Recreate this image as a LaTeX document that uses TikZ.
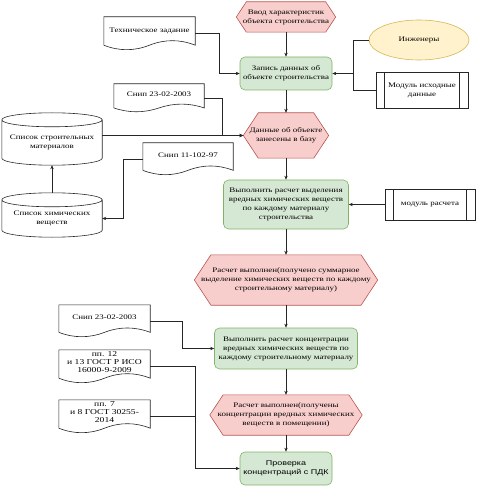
\documentclass[tikz,border=0pt]{standalone}
\usepackage{fontspec}
\setmainfont[FakeStretch=1.28]{Liberation Serif}
\newfontfamily\widesans[FakeStretch=1.28]{Liberation Sans}
\usetikzlibrary{arrows.meta,shapes.geometric,calc,backgrounds}
\definecolor{FlowPink}{HTML}{F8CECC}
\definecolor{FlowRed}{HTML}{B85450}
\definecolor{FlowGreen}{HTML}{D5E8D4}
\definecolor{FlowGreenDark}{HTML}{82B366}
\definecolor{FlowCream}{HTML}{FFF2CC}
\definecolor{FlowGold}{HTML}{D6B656}
\definecolor{FlowDark}{HTML}{262626}
\tikzset{
  txt/.style={font=\fontsize{7pt}{9pt}\selectfont,align=center,inner sep=1pt},
  hexbox/.style={txt},
  hexline/.style={draw=FlowRed,fill=FlowPink,line width=0.6pt},
  greenbox/.style={txt,draw=FlowGreenDark,fill=FlowGreen,rounded corners=5pt,line width=0.6pt},
  docbox/.style={txt,minimum width=91pt,minimum height=33pt,text depth=7pt},
  gosttxt/.style={font=\fontsize{7.5pt}{8pt}\selectfont,text depth=8.5pt},
  docline/.style={draw=FlowDark,fill=white,line width=0.6pt},
  procbox/.style={txt,draw=FlowDark,fill=white,line width=0.6pt,
    path picture={\draw[flowline] ([xshift=8.5pt]path picture bounding box.north west) -- ([xshift=8.5pt]path picture bounding box.south west)
      ([xshift=-8.5pt]path picture bounding box.north east) -- ([xshift=-8.5pt]path picture bounding box.south east);}},
  cylbox/.style={txt,minimum width=100pt},
  cylline/.style={draw=FlowDark,fill=white,line width=0.6pt},
  ellbox/.style={txt,ellipse,draw=FlowGold,fill=FlowCream,line width=0.6pt},
  flowarrow/.style={-{Stealth[length=4pt,width=3.4pt]},line width=0.6pt,draw=FlowDark},
  flowline/.style={line width=0.6pt,draw=FlowDark}
}
\begin{document}
\begin{tikzpicture}[x=1pt,y=-1pt]
\useasboundingbox (0,0) rectangle (476,486);
% main column
\node[hexbox,minimum width=99pt,minimum height=30pt] (in1) at (286,17) {Ввод характеристик\\объекта строительства};
\node[greenbox,minimum width=92pt,minimum height=33pt] (rec1) at (286,73.5) {Запись данных об\\объекте строительства};
\node[hexbox,minimum width=85pt,minimum height=45pt] (db) at (286,135.5) {Данные об объекте\\занесены в базу};
\node[greenbox,minimum width=125pt,minimum height=49pt] (calc1) at (286,204.5) {Выполнить расчет выделения\\вредных химических веществ\\по каждому материалу\\строительства};
\node[hexbox,minimum width=183pt,minimum height=50pt] (res1) at (286,280) {Расчет выполнен(получено суммарное\\выделение химических веществ по каждому\\строительному материалу)};
\node[greenbox,minimum width=143pt,minimum height=41pt] (calc2) at (286,348.5) {Выполнить расчет концентрации\\вредных химических веществ по\\каждому строительному материалу};
\node[hexbox,minimum width=152pt,minimum height=40pt] (res2) at (286,415) {Расчет выполнен(получены\\концентрации вредных химических\\веществ в помещении)};
\node[greenbox,minimum width=92pt,minimum height=33pt,font=\widesans\fontsize{7pt}{8.5pt}\selectfont] (chk) at (286,468.5) {Проверка\\концентраций с ПДК};
% right side
\node[ellbox,minimum width=100pt,minimum height=40pt] (eng) at (419,40) {Инженеры};
\node[procbox,minimum width=92pt,minimum height=36pt] (mod1) at (422,90) {Модуль исходные\\данные};
\node[procbox,minimum width=90pt,minimum height=31pt] (mod2) at (430,204.5) {модуль расчета};
% left side
\node[docbox] (tz) at (149.5,33.5) {Техническое задание};
\node[docbox,minimum width=90pt,minimum height=28pt] (snip1) at (159,98) {Снип 23-02-2003};
\node[cylbox,minimum height=45pt] (mat) at (52,142.5) {Список строительных\\материалов};
\node[cylbox,minimum height=37pt] (chem) at (52,218.5) {Список химических\\веществ};
\node[docbox,minimum width=90pt,minimum height=32pt] (snip2) at (188,159) {Снип 11-102-97};
\node[docbox,minimum height=32pt] (snip3) at (104.5,321) {Снип 23-02-2003};
\node[docbox,gosttxt] (gost1) at (104.5,366.5) {пп. 12\\и 13 ГОСТ Р ИСО\\16000-9-2009};
\node[docbox,gosttxt] (gost2) at (104.5,416.5) {пп. 7\\и 8 ГОСТ 30255-\\2014};
% outlines behind the texts
\begin{scope}[on background layer]
\foreach \hx in {in1,db,res1,res2}
  \draw[hexline] let \p1=(\hx.north west),\p2=(\hx.south east),\n1={0.33*(\y1-\y2)} in
    (\hx.west) -- ({\x1+\n1},\y1) -- ({\x2-\n1},\y1) -- (\hx.east) -- ({\x2-\n1},\y2) -- ({\x1+\n1},\y2) -- cycle;
\foreach \dc in {tz,snip1,snip2,snip3,gost1,gost2}
  \draw[docline] let \p1=(\dc.north west),\p2=(\dc.south east),\n1={\y1-\y2},\n2={\x2-\x1} in
    (\x1,\y1) -- (\x2,\y1) -- (\x2,{\y2+0.15*\n1})
    .. controls ({\x1+0.833*\n2},{\y2+0.33*\n1}) and ({\x1+0.667*\n2},{\y2+0.33*\n1}) .. ({\x1+0.5*\n2},{\y2+0.15*\n1})
    .. controls ({\x1+0.333*\n2},{\y2-0.03*\n1}) and ({\x1+0.167*\n2},{\y2-0.03*\n1}) .. (\x1,{\y2+0.15*\n1}) -- cycle;
\foreach \cy in {mat,chem}
  \draw[cylline] let \p1=(\cy.north west),\p2=(\cy.south east),\n1={(\x2-\x1)/2},\n2={7pt} in
    (\x1,\y1) -- (\x1,{\y2+\n2}) arc[start angle=180,end angle=360,x radius=\n1,y radius=\n2]
    -- (\x2,\y1) arc[start angle=0,end angle=180,x radius=\n1,y radius=\n2] -- cycle
    (\x1,\y1) arc[start angle=180,end angle=360,x radius=\n1,y radius=\n2];
\end{scope}
% connectors
\draw[flowarrow] (in1.south) -- (rec1.north);
\draw[flowarrow] (rec1.south) -- (db.north);
\draw[flowarrow] (db.south) -- (calc1.north);
\draw[flowarrow] (calc1.south) -- (res1.north);
\draw[flowarrow] (res1.south) -- (calc2.north);
\draw[flowarrow] (calc2.south) -- (res2.north);
\draw[flowarrow] (res2.south) -- (chk.north);
\draw[flowarrow] (tz.east) -- ++(24,0) |- (rec1.west);
\coordinate (engjoin) at ($(eng.west)+(-15,0)$);
\draw[flowline] (eng.west) -- (engjoin) |- (mod1.west);
\draw[flowarrow] (engjoin |- rec1.east) -- (rec1.east);
\draw[flowarrow] (snip1.east) -- ++(18,0) |- (db.west);
\draw[flowarrow] (mat.east |- db.west) -- (db.west);
\draw[flowarrow] ([yshift=7pt]chem.north) -- (mat.south);
\draw[flowarrow] (snip2.west) -- ++(-20,0) |- (chem.east);
\draw[flowarrow] (mod2.west) -- (calc1.east);
\draw[flowarrow] (snip3.east) -- ++(32,0) |- (calc2.west);
\coordinate (gostjoin) at ($(gost1.east)+(45,0)$);
\draw[flowarrow] (gost1.east) -- (gostjoin) |- (chk.west);
\draw[flowline] (gost2.east) -- (gost2.east -| gostjoin);
\end{tikzpicture}
\end{document}
